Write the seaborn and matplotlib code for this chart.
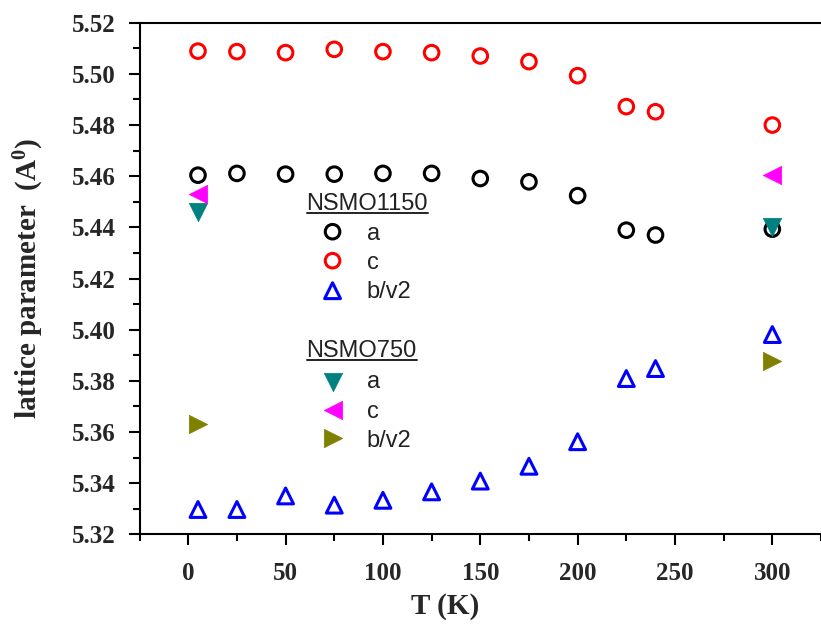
import matplotlib
matplotlib.use("Agg")
import matplotlib.pyplot as plt
import seaborn as sns
import numpy as np
import pandas as pd
from matplotlib.lines import Line2D
from matplotlib.ticker import MultipleLocator, FormatStrFormatter

# ---------------- data ----------------
T_1150 = [5, 25, 50, 75, 100, 125, 150, 175, 200, 225, 240, 300]
a_1150 = [5.4604, 5.4611, 5.4608, 5.4608, 5.4611, 5.4611, 5.4591, 5.4578, 5.4524, 5.4389, 5.4370, 5.4393]
c_1150 = [5.5089, 5.5087, 5.5083, 5.5096, 5.5087, 5.5083, 5.5070, 5.5048, 5.4993, 5.4872, 5.4852, 5.4800]
b_1150 = [5.3297, 5.3297, 5.3350, 5.3314, 5.3333, 5.3366, 5.3408, 5.3466, 5.3562, 5.3809, 5.3848, 5.3981]

T_750 = [5, 300]
a_750 = [5.4461, 5.4403]
c_750 = [5.4532, 5.4604]
b_750 = [5.3633, 5.3878]

x_ticks = [0, 50, 100, 150, 200, 250, 300]
y_ticks = [5.32, 5.34, 5.36, 5.38, 5.40, 5.42, 5.44, 5.46, 5.48, 5.50, 5.52]

# ---------------- style ----------------
sns.set_style("ticks")
plt.rcParams["font.family"] = ["Liberation Serif", "DejaVu Serif"]
plt.rcParams["mathtext.fontset"] = "custom"
plt.rcParams["mathtext.rm"] = "Liberation Serif:bold"
plt.rcParams["mathtext.it"] = "Liberation Serif:bold"
plt.rcParams["mathtext.bf"] = "Liberation Serif:bold"

fig = plt.figure(figsize=(8.21, 6.28), dpi=100)
ax = fig.add_axes([0.1700, 0.1492, 0.8300, 0.8146])

S_OPEN = 110
S_TRI = 130
S_FILL = 175
LW_OPEN = 2.2

series_open = [
    (T_1150, a_1150, "o", "black"),
    (T_1150, c_1150, "o", "#ff0000"),
    (T_1150, b_1150, "^", "#0000ff"),
]
series_fill = [
    (T_750, a_750, "v", "#008080"),
    (T_750, c_750, "<", "#ff00ff"),
    (T_750, b_750, ">", "#808000"),
]

for x, y, m, col in series_open:
    df = pd.DataFrame({"T": x, "v": y})
    sns.scatterplot(data=df, x="T", y="v", ax=ax, marker=m, s=S_OPEN if m == "o" else S_TRI,
                    color=col, facecolors="none", edgecolor=col,
                    linewidth=LW_OPEN, legend=False, zorder=3)
for x, y, m, col in series_fill:
    df = pd.DataFrame({"T": x, "v": y})
    sns.scatterplot(data=df, x="T", y="v", ax=ax, marker=m, s=S_FILL,
                    color=col, edgecolor=col, linewidth=0.5,
                    legend=False, zorder=4)

ax.set_xlim(-25, 325)
ax.set_ylim(5.32, 5.52)
ax.set_xticks(x_ticks)
ax.set_yticks(y_ticks)
ax.xaxis.set_minor_locator(MultipleLocator(25))
ax.yaxis.set_minor_locator(MultipleLocator(0.01))
ax.yaxis.set_major_formatter(FormatStrFormatter("%.2f"))

for lab in ax.get_xticklabels() + ax.get_yticklabels():
    lab.set_fontweight("bold")
    lab.set_fontsize(18)

ax.tick_params(which="major", direction="out", length=8, width=1.5, color="black")
ax.tick_params(which="minor", direction="out", length=5, width=1.5, color="black")
ax.tick_params(axis="x", which="major", pad=12)
ax.tick_params(axis="y", which="major", pad=9)
ax.tick_params(top=False, right=False, which="both")

for sp in ["left", "bottom", "top"]:
    ax.spines[sp].set_linewidth(1.5)
    ax.spines[sp].set_color("black")
ax.spines["right"].set_visible(False)

ax.set_xlabel("T (K)", fontsize=21, fontweight="bold")
ax.set_ylabel("lattice parameter  (A$^{0}$)", fontsize=21, fontweight="bold")
ax.xaxis.set_label_coords(0.448, -0.114)
ax.yaxis.set_label_coords(-0.138, 0.5)

# ---------------- legend (manual) ----------------
leg_font = dict(family=["Liberation Sans", "DejaVu Sans"], fontsize=17, color="#222222")
hx, mx, tx = 0.2451, 0.2832, 0.3331


def header(text, y_base, y_line):
    t = ax.text(hx, y_base, text, transform=ax.transAxes, ha="left", va="baseline", **leg_font)
    fig.canvas.draw()
    bb = t.get_window_extent().transformed(ax.transAxes.inverted())
    ax.add_line(Line2D([bb.x0, bb.x1], [y_line, y_line], transform=ax.transAxes,
                       color="#222222", lw=1.4, clip_on=False))


def entry(marker, col, filled, y_mark, label, y_base):
    if filled:
        ax.scatter([mx], [y_mark], transform=ax.transAxes, marker=marker, s=S_FILL,
                   color=col, edgecolor=col, linewidth=0.5, clip_on=False, zorder=5)
    else:
        ax.scatter([mx], [y_mark], transform=ax.transAxes, marker=marker,
                   s=S_OPEN if marker == "o" else S_TRI, facecolors="none",
                   edgecolors=col, linewidth=LW_OPEN, clip_on=False, zorder=5)
    ax.text(tx, y_base, label, transform=ax.transAxes, ha="left", va="baseline", **leg_font)


header("NSMO1150", 0.6339, 0.6290)
entry("o", "black", False, 0.5915, "a", 0.5753)
entry("o", "#ff0000", False, 0.5348, "c", 0.5186)
entry("^", "#0000ff", False, 0.4762, "b/v2", 0.4619)

header("NSMO750", 0.3466, 0.3407)
entry("v", "#008080", True, 0.2983, "a", 0.2854)
entry("<", "#ff00ff", True, 0.2429, "c", 0.2279)
entry(">", "#808000", True, 0.1876, "b/v2", 0.1712)

fig.savefig("out.png", dpi=100)
